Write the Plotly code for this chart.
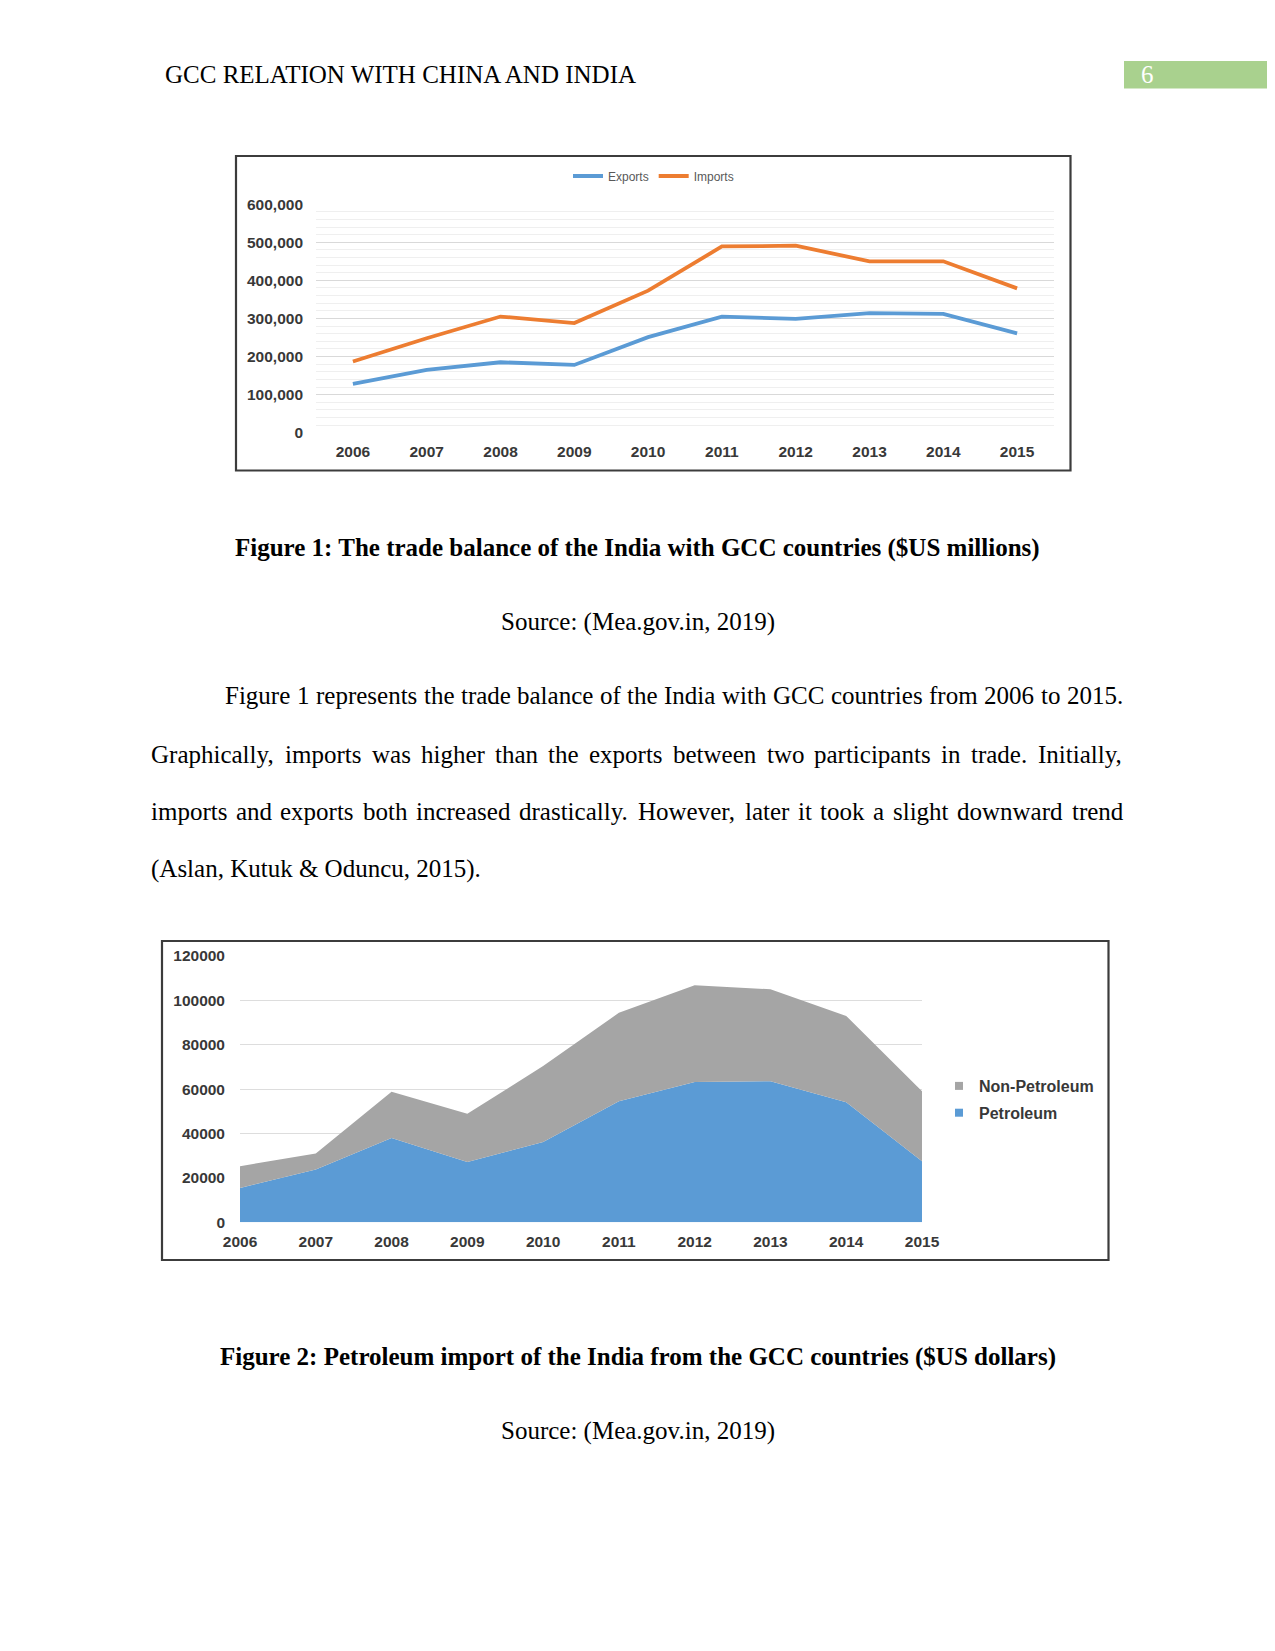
import plotly.graph_objects as go

# ---------------- data ----------------
years = [2006, 2007, 2008, 2009, 2010, 2011, 2012, 2013, 2014, 2015]
exports = [128000, 165000, 185000, 178000, 251000, 305000, 299000, 314000, 312000, 261000]
imports = [187000, 248000, 305000, 288000, 373000, 489000, 491000, 450000, 450000, 379000]

petroleum = [15500, 23800, 38000, 27200, 36200, 54600, 63200, 63600, 54100, 27500]
non_petroleum = [9800, 7200, 20800, 21700, 34200, 39800, 43600, 41400, 38900, 31600]

header_text = "GCC RELATION WITH CHINA AND INDIA"
page_number = "6"
caption1 = "Figure 1: The trade balance of the India with GCC countries ($US millions)"
caption2 = "Figure 2: Petroleum import of the India from the GCC countries ($US dollars)"
source_text = "Source: (Mea.gov.in, 2019)"
paragraph_lines = [
    "Figure 1 represents the trade balance of the India with GCC countries from 2006 to 2015.",
    "Graphically, imports was higher than the exports between two participants in trade. Initially,",
    "imports and exports both increased drastically. However, later it took a slight downward trend",
    "(Aslan, Kutuk & Oduncu, 2015).",
]

# page is 1275x1651; the browser body keeps an 8px margin, so the figure is 16px smaller
PAGE_W, PAGE_H = 1275, 1651
OFF = 8
W, H = PAGE_W - 2 * OFF, PAGE_H - 2 * OFF
BLUE = "#5B9BD5"
ORANGE = "#ED7D31"
GRAY = "#A5A5A5"
LBL = "#383838"


def px(x):
    return (x - OFF) / W


def py(y):
    return 1 - (y - OFF) / H


# Times / Liberation Serif widths (1/1000 em)
TW = {' ': 250, ',': 250, '.': 250, '(': 333, ')': 333, '&': 778, ':': 278, '-': 333,
      'A': 722, 'B': 667, 'C': 667, 'D': 722, 'E': 611, 'F': 556, 'G': 722, 'H': 722, 'I': 333,
      'J': 389, 'K': 722, 'L': 611, 'M': 889, 'N': 722, 'O': 722, 'P': 556, 'Q': 722, 'R': 667,
      'S': 556, 'T': 611, 'U': 722, 'V': 722, 'W': 944, 'X': 722, 'Y': 722, 'Z': 611,
      'a': 444, 'b': 500, 'c': 444, 'd': 500, 'e': 444, 'f': 333, 'g': 500, 'h': 500, 'i': 278,
      'j': 278, 'k': 500, 'l': 278, 'm': 778, 'n': 500, 'o': 500, 'p': 500, 'q': 500, 'r': 333,
      's': 389, 't': 278, 'u': 500, 'v': 500, 'w': 722, 'x': 500, 'y': 500, 'z': 444}


def tw(s, size):
    return sum(TW.get(c, 500) for c in s) * size / 1000.0


fig = go.Figure()

# ---------------- chart 1 ----------------
fig.add_trace(go.Scatter(x=years, y=exports, name="Exports", mode="lines",
                         line=dict(color=BLUE, width=3.8), xaxis="x", yaxis="y", legend="legend"))
fig.add_trace(go.Scatter(x=years, y=imports, name="Imports", mode="lines",
                         line=dict(color=ORANGE, width=3.8), xaxis="x", yaxis="y", legend="legend"))

# ---------------- chart 2 ----------------
fig.add_trace(go.Scatter(x=years, y=petroleum, name="Petroleum", mode="lines", stackgroup="one",
                         line=dict(width=0, color=BLUE), fillcolor=BLUE, showlegend=False,
                         xaxis="x2", yaxis="y2"))
fig.add_trace(go.Scatter(x=years, y=non_petroleum, name="Non-Petroleum", mode="lines", stackgroup="one",
                         line=dict(width=0, color=GRAY), fillcolor=GRAY, showlegend=False,
                         xaxis="x2", yaxis="y2"))
# legend entries (square swatches)
fig.add_trace(go.Scatter(x=[None], y=[None], name="Non-Petroleum", mode="markers",
                         marker=dict(symbol="square", size=8, color=GRAY), legendgroup="np",
                         xaxis="x2", yaxis="y2", legend="legend2"))
fig.add_trace(go.Scatter(x=[None], y=[None], name="Petroleum", mode="markers",
                         marker=dict(symbol="square", size=8, color=BLUE), legendgroup="p",
                         xaxis="x2", yaxis="y2", legend="legend2"))

tickfont = dict(family="Liberation Sans, Arial, sans-serif", size=15.5, color=LBL, weight="bold")

annotations = []


def ann(text, x, y, size=25, bold=False, xanchor="left", color="black",
        family="Liberation Serif, Times New Roman, serif"):
    annotations.append(dict(text=text, x=px(x), y=py(y), xref="paper", yref="paper",
                            xanchor=xanchor, yanchor="middle", showarrow=False,
                            font=dict(family=family, size=size, color=color,
                                      weight="bold" if bold else "normal"),
                            borderpad=0, borderwidth=0))


# header
ann(header_text, 165, 75)
ann(page_number, 1141, 75, color="white")

# captions
ann(caption1, 637.5, 547.5, bold=True, xanchor="center")
ann(source_text, 637.5, 622, xanchor="center")
ann(caption2, 637.5, 1357, bold=True, xanchor="center")
ann(source_text, 637.5, 1431, xanchor="center")

# paragraph (justified)
line_y = [696, 754, 811, 868.5]
line_x0 = [225, 150.5, 150.5, 150.5]
right_edge = 1123
for i, line in enumerate(paragraph_lines):
    if i == len(paragraph_lines) - 1:
        ann(line, line_x0[i], line_y[i])
        continue
    words = line.split(" ")
    widths = [tw(w_, 25) for w_ in words]
    gap = (right_edge - line_x0[i] - sum(widths)) / (len(words) - 1)
    xcur = line_x0[i]
    for w_, wd in zip(words, widths):
        ann(w_, xcur, line_y[i])
        xcur += wd + gap

shapes = [
    dict(type="rect", xref="paper", yref="paper", x0=px(1124), x1=1, y0=py(61), y1=py(88.5),
         fillcolor="#A9D18E", line=dict(width=0), layer="below"),
    dict(type="rect", xref="paper", yref="paper", x0=px(236), x1=px(1070.5), y0=py(156), y1=py(470.5),
         line=dict(color="#3c3c3c", width=2.2), fillcolor="rgba(0,0,0,0)"),
    dict(type="rect", xref="paper", yref="paper", x0=px(162), x1=px(1108.5), y0=py(941), y1=py(1260),
         line=dict(color="#3c3c3c", width=2.2), fillcolor="rgba(0,0,0,0)"),
]

fig.update_layout(
    width=W, height=H,
    margin=dict(l=0, r=0, t=0, b=0, pad=0, autoexpand=False),
    paper_bgcolor="white", plot_bgcolor="white",
    showlegend=True,
    xaxis=dict(domain=[px(316), px(1054)], range=[2005.5, 2015.5], tickvals=years,
               showgrid=False, zeroline=False, showline=False, ticks="", automargin=False,
               tickfont=tickfont, ticklabelstandoff=8, anchor="y", fixedrange=True),
    yaxis=dict(domain=[py(432.7), py(204.2)], range=[0, 600000], dtick=100000, tickformat=",d",
               showgrid=True, gridcolor="#D9D9D9", gridwidth=1, zeroline=False, showline=False,
               minor=dict(dtick=20000, showgrid=True, gridcolor="#EFEFEF", gridwidth=1),
               ticks="", tickfont=tickfont, ticklabelstandoff=12, anchor="x", automargin=False),
    xaxis2=dict(domain=[px(240), px(922)], range=[2006, 2015], tickvals=years,
                showgrid=False, zeroline=False, showline=False, ticks="", automargin=False,
                tickfont=tickfont, ticklabelstandoff=8, anchor="y2"),
    yaxis2=dict(domain=[py(1222.3), py(956)], range=[0, 120000], dtick=20000, tickformat="d",
                showgrid=True, gridcolor="#DDDDDD", gridwidth=1, zeroline=False, showline=False,
                ticks="", tickfont=tickfont, ticklabelstandoff=14, anchor="x2", automargin=False),
    legend=dict(orientation="h", x=px(568), y=py(176), xanchor="left", yanchor="middle",
                font=dict(family="Liberation Sans, Arial, sans-serif", size=12, color="#595959"),
                bgcolor="rgba(0,0,0,0)", borderwidth=0, itemwidth=30, traceorder="normal"),
    legend2=dict(orientation="v", x=px(939), y=py(1069), xanchor="left", yanchor="top",
                 font=dict(family="Liberation Sans, Arial, sans-serif", size=16, color=LBL, weight="bold"),
                 bgcolor="rgba(0,0,0,0)", borderwidth=0, traceorder="grouped", tracegroupgap=3),
    annotations=annotations,
    shapes=shapes,
)

fig.write_html("out.html", config={"displayModeBar": False})
